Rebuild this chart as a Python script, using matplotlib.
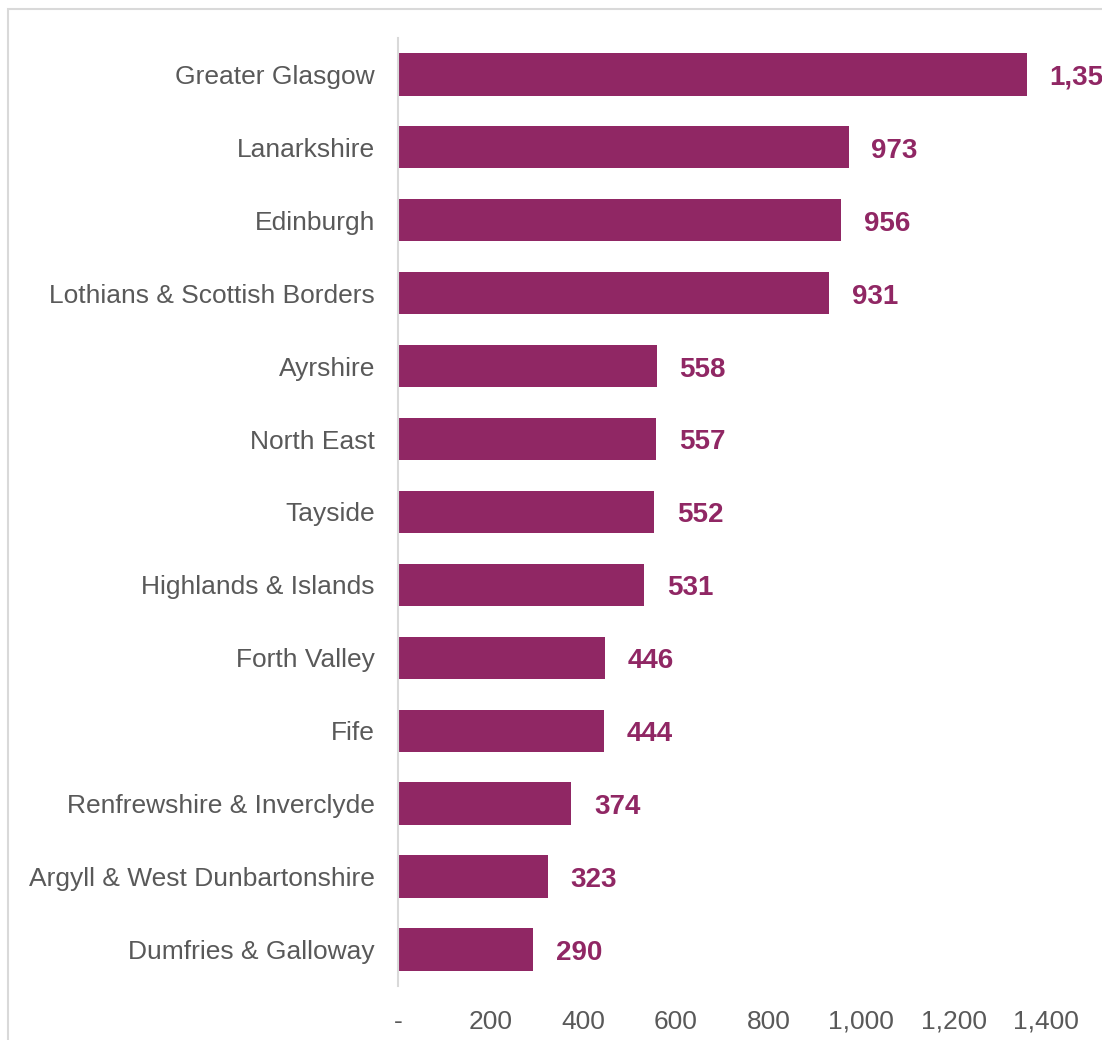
import matplotlib.pyplot as plt
from matplotlib.patches import Rectangle
from matplotlib.ticker import FuncFormatter

regions = ["Greater Glasgow", "Lanarkshire", "Edinburgh", "Lothians & Scottish Borders",
           "Ayrshire", "North East", "Tayside", "Highlands & Islands", "Forth Valley",
           "Fife", "Renfrewshire & Inverclyde", "Argyll & West Dunbartonshire",
           "Dumfries & Galloway"]
counts = [1358, 973, 956, 931, 558, 557, 552, 531, 446, 444, 374, 323, 290]
xticks = [0, 200, 400, 600, 800, 1000, 1200, 1400]

bar_col = "#902764"
txt_col = "#595959"

plt.rcParams['font.family'] = ['Liberation Sans', 'DejaVu Sans']

fig = plt.figure(figsize=(11.02, 10.40), dpi=100)
# outer chart frame, runs off the right and bottom edges
fig.patches.append(Rectangle((8 / 1102, -0.05), 1.2, 1 - 9 / 1040 + 0.05,
                             transform=fig.transFigure, fill=False,
                             edgecolor="#D9D9D9", linewidth=1.5))

ax = fig.add_axes([0.3616, 0.052, 0.5876, 0.9115])
ypos = list(range(len(regions)))
ax.barh(ypos, counts, height=0.58, color=bar_col)
ax.set_ylim(len(regions) - 0.5, -0.5)
ax.set_xlim(0, 1400)
ax.set_yticks(ypos)
ax.set_yticklabels(regions)
ax.set_xticks(xticks)
ax.xaxis.set_major_formatter(FuncFormatter(lambda v, p: "-" if v == 0 else f"{v:,.0f}"))
ax.tick_params(axis='both', length=0, labelsize=19, labelcolor=txt_col)
ax.tick_params(axis='y', pad=17)
ax.tick_params(axis='x', pad=17)

for s in ["top", "right", "bottom"]:
    ax.spines[s].set_visible(False)
ax.spines["left"].set_color("#D9D9D9")
ax.spines["left"].set_linewidth(1.5)

for y, v in zip(ypos, counts):
    ax.annotate(f"{v:,}", (v, y), xytext=(16.5, -2.5), textcoords="offset points",
                ha="left", va="center", fontsize=20, fontweight="bold",
                color=bar_col, annotation_clip=False)

fig.savefig("out.png", dpi=100)
